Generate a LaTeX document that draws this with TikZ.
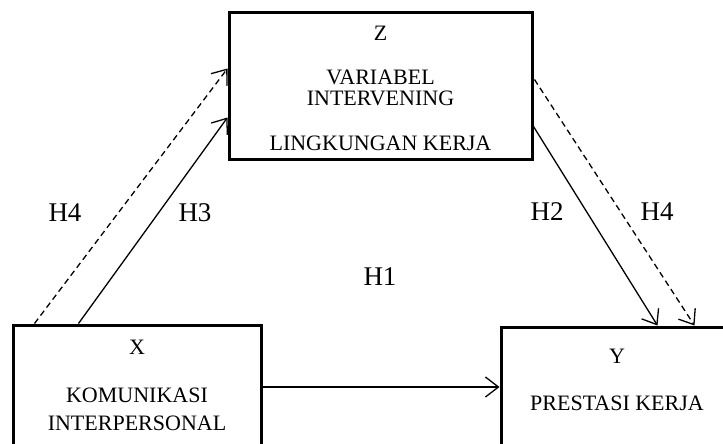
\documentclass[tikz,border=0pt]{standalone}
\usepackage{fontspec}
\setmainfont{Liberation Serif}
\usepackage{tikz}
\usetikzlibrary{positioning, calc, arrows.meta}

\begin{document}
\begin{tikzpicture}[x=1pt, y=-1pt,
        varbox/.style={draw, line width=3pt, inner sep=0pt},
        boxtext/.style={align=center, inner sep=0pt, font=\fontsize{22}{21}\selectfont},
        hlabel/.style={inner sep=0pt, font=\fontsize{27}{27}\selectfont},
        link/.style={line width=1.3pt, -{Straight Barb[length=13pt, width=20pt, line width=1.3pt]}},
        hyp/.style={link, dash pattern=on 6pt off 4pt}]
            \useasboundingbox (0,0) rectangle (723,444);
            \clip (0,0) rectangle (723,444);
            % boxes
            \node[varbox, minimum width=303pt, minimum height=146pt] (z) at (380.5,86) {};
            \node[varbox, minimum width=248pt, minimum height=124pt] (x) at (137,387) {};
            \node[varbox, minimum width=232pt, minimum height=120pt] (y) at (617,387) {};
            \node[boxtext, below=14pt of z.north] (ztext) {Z\\[23pt]VARIABEL\\INTERVENING\\[24pt]LINGKUNGAN KERJA};
            \node[boxtext, below=16pt of x.north] (xtext) {X\\[27pt]KOMUNIKASI\\[7pt]INTERPERSONAL};
            \node[boxtext, below=23pt of y.north] (ytext) {Y\\[26pt]PRESTASI KERJA};
            % arrows
            \draw[link] (x) -- (y);
            \draw[link] ($(x.north west)+(67,0)$) -- ($(z.south west)+(0,-43)$);
            \draw[hyp] ($(x.north west)+(23,0)$) -- ($(z.south west)+(0,-92)$);
            \draw[link] ($(z.south east)+(0,-34)$) -- ($(y.north west)+(158,0)$);
            \draw[hyp] ($(z.south east)+(1,-81)$) -- ($(y.north west)+(195,0)$);
            % labels
            \node[hlabel] (h4a) at (65,213) {H4};
            \node[hlabel] (h3) at (195,213) {H3};
            \node[hlabel] (h1) at (380,277) {H1};
            \node[hlabel] (h2) at (547,212) {H2};
            \node[hlabel] (h4b) at (657,212) {H4};
\end{tikzpicture}
\end{document}
